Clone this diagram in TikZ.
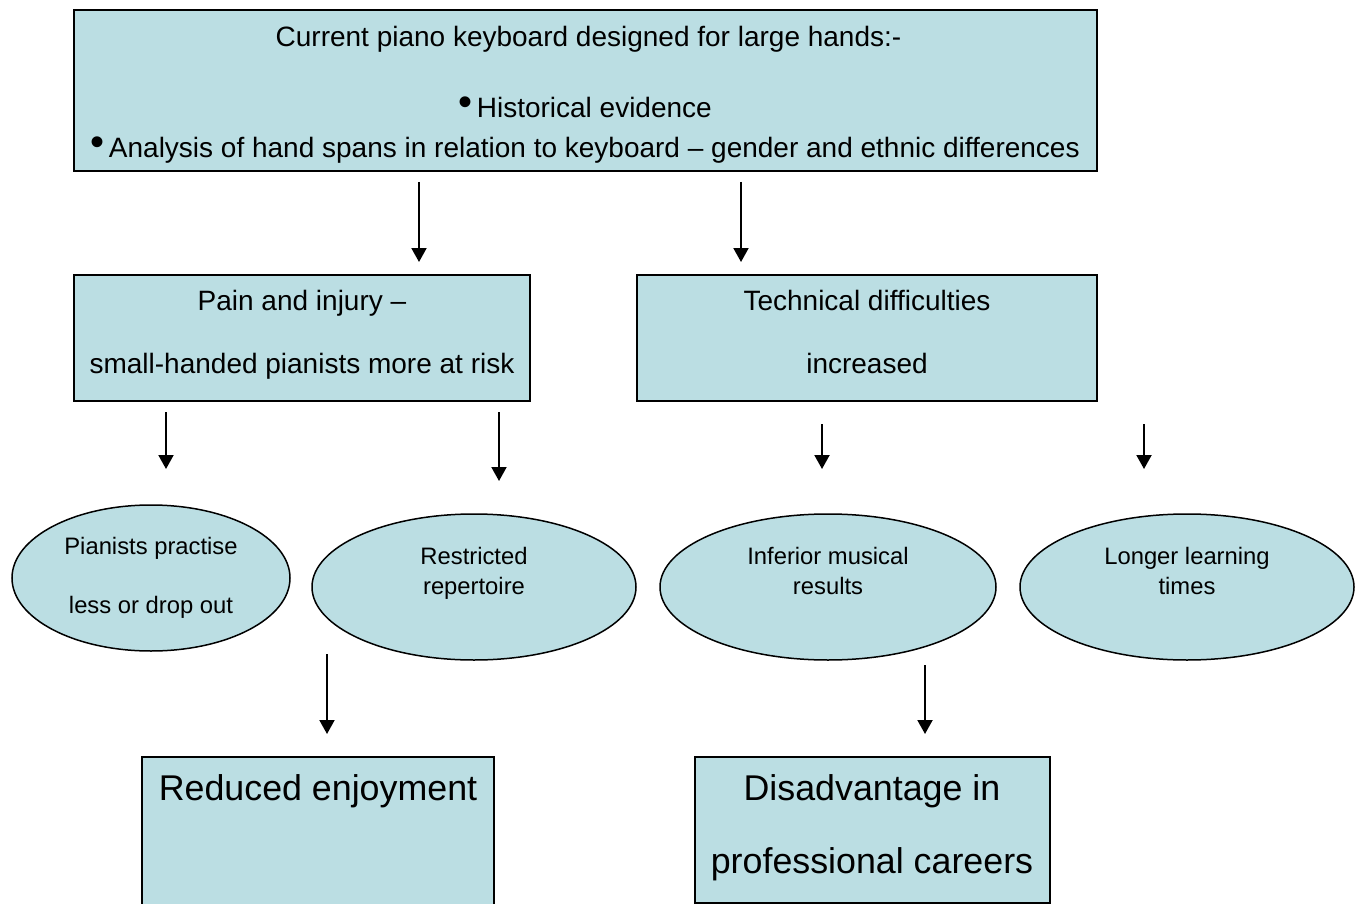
\documentclass[tikz,border=0pt]{standalone}
\usepackage{fontspec}
\setmainfont{Liberation Sans}
\usetikzlibrary{arrows.meta,shapes.geometric}
\definecolor{boxfill}{RGB}{187,222,227}
\newcommand{\bul}{\raisebox{2pt}{\fontsize{40}{40}\selectfont •}}
\begin{document}
\begin{tikzpicture}[x=1pt,y=-1pt,
  box/.style={draw=black,line width=2pt,fill=boxfill,rectangle,inner sep=0pt},
  oval/.style={draw=black,line width=1.5pt,fill=boxfill,ellipse,inner sep=0pt},
  med/.style={font=\fontsize{28}{32}\selectfont,anchor=base,inner sep=0pt},
  ell/.style={font=\fontsize{23.8}{28}\selectfont,anchor=base,inner sep=0pt},
  big/.style={font=\fontsize{35.8}{42}\selectfont,anchor=base,inner sep=0pt},
  arr/.style={line width=2pt,-{Triangle[width=15pt,length=14pt]}}]
\clip (0,0) rectangle (1360,904);
\fill[white] (0,0) rectangle (1360,904);
% boxes
\node[box,minimum width=1023pt,minimum height=161pt] (top) at (585.5,90.5) {};
\node[box,minimum width=456pt,minimum height=126pt] (pain) at (302,338) {};
\node[box,minimum width=460pt,minimum height=126pt] (tech) at (867,338) {};
\node[oval,minimum width=278pt,minimum height=146pt] (e1) at (151,578) {};
\node[oval,minimum width=324pt,minimum height=146pt] (e2) at (474,587) {};
\node[oval,minimum width=336pt,minimum height=146pt] (e3) at (828,587) {};
\node[oval,minimum width=334pt,minimum height=146pt] (e4) at (1187,587) {};
\node[box,minimum width=352pt,minimum height=170pt] (red) at (318,842) {};
\node[box,minimum width=355pt,minimum height=146pt] (dis) at (872.5,830) {};
% texts
\node[med] (t1) at (588.5,47) {Current piano keyboard designed for large hands:-};
\node[med] (t2) at (585,118) {\bul\,Historical evidence};
\node[med] (t3) at (585,158) {\bul\,Analysis of hand spans in relation to keyboard – gender and ethnic differences};
\node[med] (p1) at (302,310) {Pain and injury –};
\node[med] (p2) at (302,373) {small-handed pianists more at risk};
\node[med] (q1) at (867,310) {Technical difficulties};
\node[med] (q2) at (867,373) {increased};
\node[ell] (e1a) at (151,554) {Pianists practise};
\node[ell] (e1b) at (151,613) {less or drop out};
\node[ell] (e2a) at (474,564) {Restricted};
\node[ell] (e2b) at (474,594) {repertoire};
\node[ell] (e3a) at (828,564) {Inferior musical};
\node[ell] (e3b) at (828,594) {results};
\node[ell] (e4a) at (1187,564) {Longer learning};
\node[ell] (e4b) at (1187,594) {times};
\node[big] (r1) at (318,800) {Reduced enjoyment};
\node[big] (d1) at (872,800) {Disadvantage in};
\node[big] (d2) at (872,873) {professional careers};
% arrow coordinates
\coordinate (a1s) at (419,182); \coordinate (a1e) at (419,262);
\coordinate (a2s) at (741,182); \coordinate (a2e) at (741,262);
\coordinate (a3s) at (166,412); \coordinate (a3e) at (166,469);
\coordinate (a4s) at (499,412); \coordinate (a4e) at (499,481);
\coordinate (a5s) at (822,424); \coordinate (a5e) at (822,469);
\coordinate (a6s) at (1144,424); \coordinate (a6e) at (1144,469);
\coordinate (a7s) at (327,654); \coordinate (a7e) at (327,734);
\coordinate (a8s) at (925,665); \coordinate (a8e) at (925,734);
\draw[arr] (a1s) -- (a1e);
\draw[arr] (a2s) -- (a2e);
\draw[arr] (a3s) -- (a3e);
\draw[arr] (a4s) -- (a4e);
\draw[arr] (a5s) -- (a5e);
\draw[arr] (a6s) -- (a6e);
\draw[arr] (a7s) -- (a7e);
\draw[arr] (a8s) -- (a8e);
\end{tikzpicture}
\end{document}
